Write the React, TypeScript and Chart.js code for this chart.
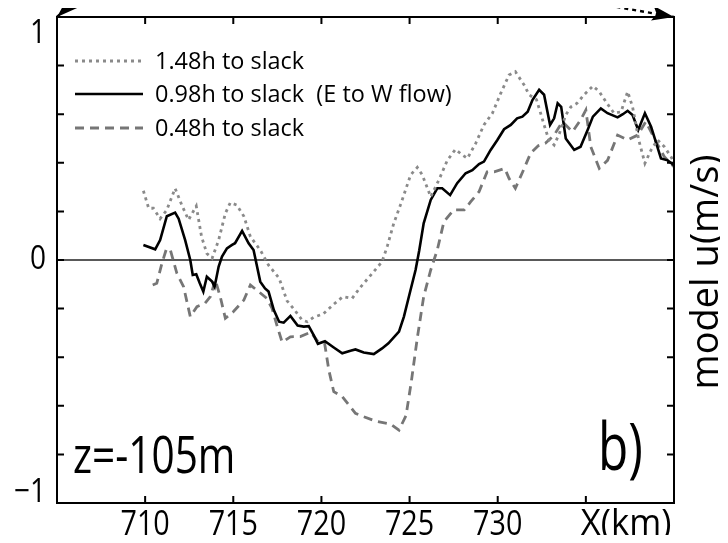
import React, { useEffect, useRef } from "react";
import { Chart, registerables } from "chart.js";

Chart.register(...registerables);

// ---- data ----
const slack148X = [709.9, 710.2, 710.47, 710.85, 711.23, 711.7, 712.08, 712.46, 712.9, 713.2, 713.5, 713.8, 714.17, 714.55, 714.83, 715.2, 715.6, 715.97, 716.53, 717.0, 717.6, 718.05, 718.45, 718.9, 719.2, 719.55, 720.1, 720.65, 721.22, 721.74, 722.2, 722.8, 723.44, 723.75, 724.1, 724.5, 725.06, 725.44, 725.72, 726.2, 726.66, 727.14, 727.6, 728.0, 728.28, 728.75, 729.22, 729.7, 730.17, 730.64, 731.0, 731.5, 731.78, 732.2, 732.45, 732.63, 732.9, 733.2, 733.5, 733.86, 734.15, 734.5, 734.9, 735.4, 735.76, 736.14, 736.6, 737.0, 737.37, 737.65, 738.0, 738.35, 738.7, 739.07, 739.45, 739.83, 740.0];
const slack148U = [0.285, 0.213, 0.213, 0.17, 0.206, 0.295, 0.226, 0.165, 0.222, 0.096, 0.027, 0.007, 0.082, 0.192, 0.236, 0.226, 0.18, 0.096, 0.041, -0.021, -0.075, -0.168, -0.203, -0.247, -0.254, -0.236, -0.222, -0.185, -0.151, -0.158, -0.113, -0.062, -0.007, 0.06, 0.15, 0.23, 0.35, 0.381, 0.35, 0.26, 0.329, 0.41, 0.455, 0.432, 0.418, 0.48, 0.556, 0.604, 0.686, 0.761, 0.775, 0.72, 0.68, 0.66, 0.6, 0.556, 0.494, 0.473, 0.521, 0.597, 0.63, 0.645, 0.68, 0.716, 0.693, 0.651, 0.604, 0.61, 0.693, 0.63, 0.494, 0.398, 0.453, 0.494, 0.466, 0.425, 0.4];

const slack098X = [709.9, 710.57, 710.85, 711.23, 711.7, 711.9, 712.27, 712.56, 712.7, 712.9, 713.1, 713.3, 713.5, 713.8, 713.94, 714.17, 714.36, 714.64, 714.93, 715.1, 715.5, 715.87, 716.15, 716.53, 716.8, 717.0, 717.3, 717.6, 717.86, 718.24, 718.65, 719.0, 719.28, 719.56, 719.8, 720.2, 720.7, 721.18, 721.65, 721.93, 722.4, 722.97, 723.44, 723.8, 724.4, 724.68, 724.96, 725.34, 725.55, 725.8, 726.2, 726.57, 726.85, 727.3, 727.7, 728.18, 728.56, 728.94, 729.22, 729.6, 729.98, 730.36, 730.74, 731.1, 731.4, 731.7, 731.97, 732.35, 732.63, 732.97, 733.2, 733.4, 733.6, 733.86, 734.34, 734.7, 735.1, 735.4, 735.85, 736.23, 736.8, 737.1, 737.37, 737.65, 737.97, 738.35, 738.7, 739.26, 739.64, 740.0];
const slack098U = [0.062, 0.044, 0.082, 0.18, 0.195, 0.17, 0.082, 0.0, -0.062, -0.059, -0.096, -0.13, -0.069, -0.089, -0.11, -0.027, 0.014, 0.048, 0.062, 0.069, 0.12, 0.069, 0.041, -0.089, -0.117, -0.13, -0.206, -0.254, -0.258, -0.23, -0.27, -0.274, -0.272, -0.309, -0.345, -0.334, -0.36, -0.384, -0.373, -0.368, -0.381, -0.387, -0.364, -0.343, -0.295, -0.233, -0.151, -0.041, 0.04, 0.151, 0.247, 0.295, 0.295, 0.267, 0.316, 0.357, 0.37, 0.395, 0.405, 0.453, 0.494, 0.538, 0.556, 0.583, 0.59, 0.61, 0.658, 0.7, 0.68, 0.556, 0.583, 0.645, 0.63, 0.5, 0.453, 0.466, 0.535, 0.59, 0.624, 0.604, 0.587, 0.6, 0.614, 0.597, 0.535, 0.604, 0.549, 0.418, 0.41, 0.39];

const slack048X = [710.43, 710.66, 710.95, 711.2, 711.42, 711.8, 712.18, 712.56, 712.94, 713.4, 713.7, 713.98, 714.26, 714.55, 715.0, 715.6, 715.97, 716.44, 716.9, 717.2, 717.48, 717.77, 718.24, 718.8, 719.4, 719.8, 720.18, 720.42, 720.7, 721.18, 721.93, 722.4, 723.16, 723.92, 724.4, 724.8, 725.1, 725.44, 725.8, 726.2, 726.57, 726.95, 727.5, 728.1, 728.47, 728.94, 729.4, 729.8, 730.4, 730.64, 731.0, 731.4, 731.87, 732.3, 732.7, 733.2, 733.67, 734.24, 734.7, 735.0, 735.28, 735.76, 736.23, 736.8, 737.37, 737.94, 738.4, 738.98, 739.45, 740.0];
const slack048U = [-0.103, -0.096, -0.014, 0.044, 0.044, -0.055, -0.11, -0.233, -0.192, -0.178, -0.151, -0.082, -0.151, -0.24, -0.213, -0.165, -0.103, -0.13, -0.158, -0.199, -0.27, -0.338, -0.316, -0.315, -0.297, -0.336, -0.343, -0.453, -0.542, -0.562, -0.631, -0.645, -0.665, -0.675, -0.7, -0.64, -0.5, -0.32, -0.151, -0.041, 0.041, 0.158, 0.206, 0.206, 0.24, 0.281, 0.363, 0.363, 0.377, 0.336, 0.295, 0.36, 0.44, 0.47, 0.48, 0.514, 0.569, 0.528, 0.576, 0.617, 0.466, 0.377, 0.41, 0.514, 0.494, 0.514, 0.569, 0.487, 0.425, 0.384];

const seriesLabels = ["1.48h to slack", "0.98h to slack  (E to W flow)", "0.48h to slack"];

const xTicks = [710, 715, 720, 725, 730, 735];
const xTickLabels = ["710", "715", "720", "725", "730", "X(km)"];
const yTicks = [-1, -0.8, -0.6, -0.4, -0.2, 0, 0.2, 0.4, 0.6, 0.8, 1];
const yLabelValues = [-1, 0, 1];
const yLabelTexts = ["\u22121", "0", "1"];
const xMin = 705;
const xMax = 740;

const yAxisTitle = "model u(m/s)";
const depthLabel = "z=-105m";
const panelLabel = "b)";

const FONT = "'Open Sans', 'DejaVu Sans', sans-serif";

const styles = [
  { color: "#8a8a8a", dash: [3, 4], width: 2.8 },
  { color: "#000000", dash: [] as number[], width: 2.6 },
  { color: "#767676", dash: [9, 6], width: 2.8 },
];

function toPoints(xs: number[], ys: number[]) {
  return xs.map((x, i) => ({ x, y: ys[i] }));
}

function drawText(
  ctx: CanvasRenderingContext2D,
  text: string,
  x: number,
  y: number,
  size: number,
  align: CanvasTextAlign,
  baseline: CanvasTextBaseline,
  sx: number
) {
  ctx.save();
  ctx.translate(x, y);
  ctx.scale(sx, 1);
  ctx.font = `${size}px ${FONT}`;
  ctx.fillStyle = "#000";
  ctx.textAlign = align;
  ctx.textBaseline = baseline;
  ctx.fillText(text, 0, 0);
  ctx.restore();
}

const framePlugin = {
  id: "framePlugin",
  beforeDatasetsDraw(chart: any) {
    const { ctx, chartArea: ca, scales } = chart;
    const y0 = scales.y.getPixelForValue(0);
    ctx.save();
    ctx.strokeStyle = "#222";
    ctx.lineWidth = 1.3;
    ctx.beginPath();
    ctx.moveTo(ca.left, y0);
    ctx.lineTo(ca.right, y0);
    ctx.stroke();
    ctx.restore();
  },
  afterDraw(chart: any) {
    const { ctx, chartArea: ca, scales } = chart;
    const xs = scales.x;
    const ys = scales.y;
    ctx.save();
    // frame
    ctx.strokeStyle = "#000";
    ctx.lineWidth = 2;
    ctx.strokeRect(ca.left, ca.top, ca.right - ca.left, ca.bottom - ca.top);
    // ticks
    const tl = 7;
    ctx.beginPath();
    xTicks.forEach((t) => {
      const px = xs.getPixelForValue(t);
      ctx.moveTo(px, ca.bottom);
      ctx.lineTo(px, ca.bottom - tl);
      ctx.moveTo(px, ca.top);
      ctx.lineTo(px, ca.top + tl);
    });
    yTicks.forEach((t) => {
      const py = ys.getPixelForValue(t);
      ctx.moveTo(ca.left, py);
      ctx.lineTo(ca.left + tl, py);
      ctx.moveTo(ca.right, py);
      ctx.lineTo(ca.right - tl, py);
    });
    ctx.stroke();

    // x tick labels
    xTicks.forEach((t, i) => {
      const px = xs.getPixelForValue(t);
      const label = xTickLabels[i];
      if (/^\d+$/.test(label)) {
        drawText(ctx, label, px, ca.bottom + 22, 35, "center", "middle", 0.82);
      } else {
        drawText(ctx, label, px - 5, ca.bottom + 22, 36, "left", "middle", 0.96);
      }
    });
    // y tick labels
    yLabelValues.forEach((v, i) => {
      let py = ys.getPixelForValue(v);
      py = Math.min(Math.max(py, ca.top + 17), ca.bottom - 10);
      drawText(ctx, yLabelTexts[i], ca.left - 11, py, 33, "right", "middle", 0.85);
    });

    // legend
    const rows = [ca.top + 44, ca.top + 77, ca.top + 111];
    rows.forEach((ry, i) => {
      const s = styles[i];
      ctx.save();
      ctx.strokeStyle = s.color;
      ctx.lineWidth = s.width;
      ctx.setLineDash(s.dash);
      ctx.beginPath();
      ctx.moveTo(ca.left + 18, ry);
      ctx.lineTo(ca.left + 86, ry);
      ctx.stroke();
      ctx.restore();
      drawText(ctx, seriesLabels[i], ca.left + 98, ry + 1, 23, "left", "middle", 1.02);
    });

    // annotations
    drawText(ctx, depthLabel, ca.left + 16, ca.bottom - 30, 52, "left", "alphabetic", 0.78);
    drawText(ctx, panelLabel, ca.right - 76, ca.bottom - 33, 66, "left", "alphabetic", 0.75);

    // right axis title
    ctx.save();
    ctx.translate(ca.right + 44, ca.top + 255);
    ctx.rotate(-Math.PI / 2);
    ctx.font = `38px ${FONT}`;
    ctx.fillStyle = "#000";
    ctx.textAlign = "center";
    ctx.textBaseline = "alphabetic";
    ctx.fillText(yAxisTitle, 0, 0);
    ctx.restore();

    // zoom arrows (dotted) at top corners
    const arrow = (fx: number, fy: number, tx: number, ty: number) => {
      ctx.save();
      ctx.strokeStyle = "#000";
      ctx.fillStyle = "#000";
      ctx.lineWidth = 2.4;
      ctx.setLineDash([4, 4]);
      ctx.beginPath();
      ctx.moveTo(fx, fy);
      ctx.lineTo(tx, ty);
      ctx.stroke();
      ctx.setLineDash([]);
      const ang = Math.atan2(ty - fy, tx - fx);
      const L = 22;
      const W = 7.5;
      const bx = tx - L * Math.cos(ang);
      const by = ty - L * Math.sin(ang);
      ctx.beginPath();
      ctx.moveTo(tx, ty);
      ctx.lineTo(bx + W * Math.sin(ang), by - W * Math.cos(ang));
      ctx.lineTo(bx + 0.2 * L * Math.cos(ang), by + 0.2 * L * Math.sin(ang));
      ctx.lineTo(bx - W * Math.sin(ang), by + W * Math.cos(ang));
      ctx.closePath();
      ctx.fill();
      ctx.restore();
    };
    arrow(ca.right - 97, ca.top - 17, ca.right, ca.top);
    arrow(ca.left + 26, ca.top - 24, ca.left, ca.top);

    ctx.restore();
  },
};

export default function App() {
  const ref = useRef<HTMLCanvasElement | null>(null);
  useEffect(() => {
    if (!ref.current) return;
    const datasets = [
      toPoints(slack148X, slack148U),
      toPoints(slack098X, slack098U),
      toPoints(slack048X, slack048U),
    ].map((data, i) => ({
      label: seriesLabels[i],
      data,
      borderColor: styles[i].color,
      borderWidth: styles[i].width,
      borderDash: styles[i].dash,
      pointRadius: 0,
      tension: 0,
      fill: false,
    }));
    const chart = new Chart(ref.current, {
      type: "line",
      data: { datasets },
      options: {
        animation: false,
        responsive: true,
        maintainAspectRatio: false,
        layout: { padding: { left: 57, right: 54, top: 17, bottom: 40 } },
        plugins: { legend: { display: false }, tooltip: { enabled: false } },
        scales: {
          x: { type: "linear", min: xMin, max: xMax, display: false },
          y: { type: "linear", min: -1, max: 1, display: false },
        },
      },
      plugins: [framePlugin],
    });
    return () => chart.destroy();
  }, []);
  return (
    <div style={{ width: 728, height: 543, margin: -8, position: "relative", overflow: "hidden" }}>
      <canvas ref={ref} />
    </div>
  );
}
